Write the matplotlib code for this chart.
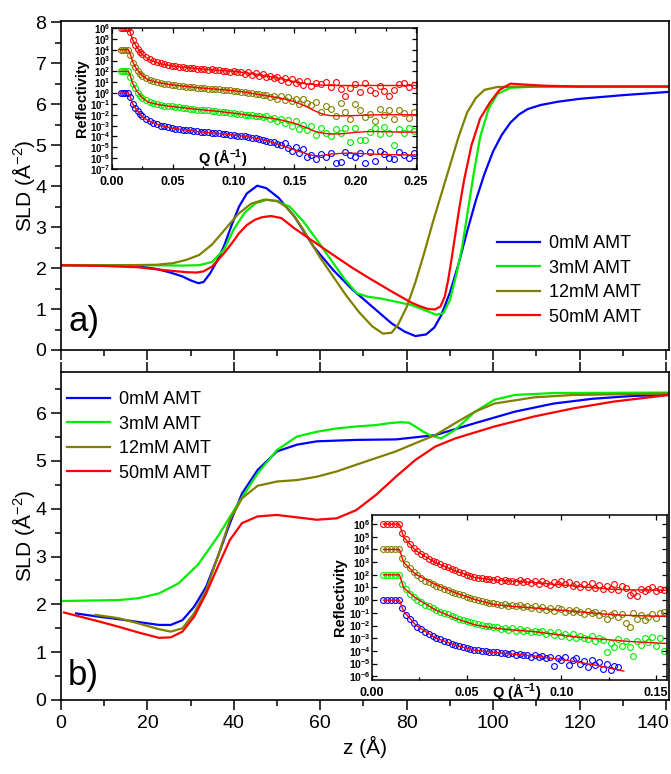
import matplotlib
matplotlib.use("Agg")
import matplotlib.pyplot as plt
from matplotlib import font_manager
from matplotlib.ticker import MultipleLocator, FixedLocator, FormatStrFormatter

# ---------------- data ----------------
# panel a) SLD profiles
z_a_blue = [0, 10, 18, 22, 25, 28, 30, 31.8, 33, 34.5, 36, 37.7, 39.5, 41.2, 43, 45.4, 47.5, 50.3, 54, 58.4,
            63, 67.5, 72, 76.5, 79.5, 82, 84.5, 86.4, 88, 90, 92, 94, 96, 98, 100, 102, 104, 106, 108, 111,
            115, 120, 130, 140.7]
sld_a_blue = [2.07, 2.07, 2.04, 1.98, 1.9, 1.8, 1.7, 1.63, 1.66, 1.87, 2.15, 2.53, 3.05, 3.5, 3.82, 4.01, 3.95, 3.72, 3.26, 2.53,
              1.95, 1.47, 1.06, 0.65, 0.45, 0.34, 0.38, 0.55, 0.85, 1.4, 2.1, 2.9, 3.65, 4.3, 4.85, 5.25, 5.55, 5.75, 5.88, 5.98,
              6.06, 6.13, 6.22, 6.3]
z_a_green = [0, 20, 28, 32, 35, 37.7, 40, 42.5, 45, 47.7, 50, 52.9, 56, 59, 63, 65.5, 68.4, 71, 73.8, 77,
             81, 84, 86.8, 88.5, 90, 91.5, 92.8, 94, 95.5, 97, 99, 101, 104, 110, 120, 140.7]
sld_a_green = [2.07, 2.07, 2.06, 2.07, 2.15, 2.45, 2.95, 3.35, 3.58, 3.67, 3.63, 3.5, 3.15, 2.72, 2.12, 1.75, 1.39, 1.3, 1.26, 1.19,
               1.1, 0.98, 0.86, 0.9, 1.22, 1.85, 2.5, 3.3, 4.3, 5.2, 5.9, 6.25, 6.4, 6.43, 6.43, 6.43]
z_a_olive = [0, 15, 22, 26, 29, 32, 35, 38, 41, 44, 47, 50, 52, 54, 56, 58, 60, 63, 66, 69,
             72, 74.5, 76.5, 78, 80, 82, 84, 86, 88, 90, 92, 94, 96, 98, 101, 110, 140.7]
sld_a_olive = [2.07, 2.07, 2.08, 2.12, 2.2, 2.32, 2.58, 2.95, 3.32, 3.57, 3.67, 3.64, 3.5, 3.26, 2.95, 2.6, 2.25, 1.79, 1.33, 0.92,
               0.58, 0.4, 0.42, 0.62, 1.05, 1.65, 2.35, 3.1, 3.8, 4.5, 5.2, 5.8, 6.15, 6.35, 6.42, 6.43, 6.43]
z_a_red = [0, 10, 17.8, 22, 26.8, 29, 31.4, 33, 35, 37.7, 39.5, 41.2, 43, 44.9, 46.5, 48.6, 51, 54, 58.4, 63,
           67.5, 72, 76.5, 81, 83, 85, 86.5, 87.8, 88.8, 89.6, 90.5, 91.4, 92.3, 93.3, 95, 97, 99.3, 101.5, 104, 107,
           112, 120, 140.7]
sld_a_red = [2.07, 2.05, 2.02, 1.97, 1.92, 1.9, 1.89, 1.92, 2.04, 2.36, 2.6, 2.85, 3.05, 3.18, 3.24, 3.27, 3.22, 2.97, 2.65, 2.32,
             2.0, 1.71, 1.43, 1.16, 1.07, 1.0, 0.99, 1.06, 1.3, 1.71, 2.3, 2.93, 3.55, 4.16, 5.0, 5.65, 6.05, 6.35, 6.5, 6.48,
             6.45, 6.43, 6.43]

# panel b) SLD profiles
z_b_blue = [3.5, 8.9, 13.4, 18, 22.7, 25.4, 28.1, 30.8, 33.6, 36.3, 39.1, 41.9, 45.5, 50, 54.6, 59.2, 68.3, 77.5, 86.6, 95.8,
            105, 114, 123, 132.4, 140.7]
sld_b_blue = [1.81, 1.74, 1.69, 1.63, 1.57, 1.57, 1.67, 1.95, 2.37, 3.0, 3.7, 4.32, 4.81, 5.2, 5.34, 5.41, 5.44, 5.45, 5.54, 5.79,
              6.03, 6.2, 6.3, 6.36, 6.38]
z_b_green = [0, 13.4, 18, 22.7, 27.2, 31.7, 36.3, 41, 45.5, 50, 54.6, 59.2, 63.8, 68.3, 72.9, 76, 78.5, 80.5, 82, 83.7,
             85.3, 88, 91.2, 95.8, 100.3, 105, 114, 140.7]
sld_b_green = [2.07, 2.09, 2.13, 2.23, 2.44, 2.83, 3.42, 4.11, 4.74, 5.23, 5.51, 5.61, 5.68, 5.72, 5.75, 5.79, 5.81, 5.8, 5.72, 5.62,
               5.54, 5.47, 5.65, 6.03, 6.28, 6.38, 6.42, 6.43]
z_b_olive = [8, 13.4, 18, 22.7, 25.4, 28.1, 30.8, 33.6, 36.3, 39.1, 41.9, 45.5, 50, 54.6, 59.2, 63.8, 68.3, 72.9, 77.5, 82,
             86.6, 91.2, 95.8, 100.3, 109.5, 118.6, 140.7]
sld_b_olive = [1.78, 1.71, 1.6, 1.48, 1.43, 1.5, 1.81, 2.3, 3.0, 3.77, 4.22, 4.48, 4.57, 4.6, 4.67, 4.78, 4.92, 5.06, 5.2, 5.37,
               5.54, 5.79, 6.03, 6.2, 6.33, 6.38, 6.41]
z_b_red = [0.7, 8.9, 13.4, 18, 22.7, 25.4, 28.1, 30.8, 33.6, 36.3, 39.1, 41.9, 45.5, 50, 54.6, 59.2, 63.8, 68.3, 72.9, 77.5,
           82, 86.6, 91.2, 100.3, 109.5, 118.6, 127.8, 140.7]
sld_b_red = [1.83, 1.64, 1.53, 1.41, 1.3, 1.31, 1.43, 1.74, 2.23, 2.79, 3.35, 3.7, 3.84, 3.87, 3.82, 3.77, 3.8, 3.97, 4.29, 4.67,
             5.02, 5.3, 5.47, 5.72, 5.93, 6.1, 6.24, 6.38]

labels = ["0mM AMT", "3mM AMT", "12mM AMT", "50mM AMT"]
colors = ["#0000FF", "#00EE00", "#808000", "#FF0000"]
z_ticks = [0, 20, 40, 60, 80, 100, 120, 140]

# inset a) reflectivity (log10 R, offset data)
q_top = [0.007, 0.009, 0.011, 0.013, 0.015, 0.017, 0.019, 0.021, 0.023, 0.025,
         0.028, 0.031, 0.034, 0.037, 0.040, 0.043, 0.046, 0.049, 0.052, 0.055,
         0.058, 0.061, 0.064, 0.067, 0.070, 0.073, 0.076, 0.079, 0.082, 0.085,
         0.088, 0.091, 0.094, 0.097, 0.100, 0.103, 0.106, 0.109, 0.112, 0.115,
         0.118, 0.121, 0.124, 0.127, 0.130, 0.133, 0.136, 0.139, 0.142, 0.145,
         0.148, 0.151, 0.154, 0.157, 0.160, 0.164, 0.168, 0.172, 0.176, 0.180,
         0.184, 0.188, 0.192, 0.196, 0.200, 0.204, 0.208, 0.212, 0.216, 0.220,
         0.224, 0.228, 0.232, 0.236, 0.240, 0.244, 0.248]
logr_top_blue = [0, 0, 0, -0.02, -0.4, -1.0, -1.35, -1.65, -1.9, -2.15,
                 -2.42, -2.6, -2.75, -2.88, -3.0, -3.08, -3.15, -3.22, -3.28, -3.33,
                 -3.36, -3.42, -3.45, -3.5, -3.54, -3.56, -3.62, -3.63, -3.68, -3.7,
                 -3.72, -3.78, -3.8, -3.85, -3.84, -3.92, -3.95, -3.98, -4.05, -4.1,
                 -4.12, -4.25, -4.3, -4.38, -4.5, -4.55, -4.7, -4.78, -4.6, -5.1,
                 -5.3, -4.95, -5.5, -5.2, -5.85, -5.7, -6.05, -5.6, -5.9, -5.5,
                 -6.45, -6.4, -5.45, -5.75, -5.9, -5.5, -6.45, -5.4, -6.3, -5.3,
                 -5.6, -5.95, -6.1, -5.4, -5.7, -6.0, -5.55]
logr_top_green = [2, 2, 2, 2, 1.5, 0.85, 0.45, 0.05, -0.25, -0.45,
                  -0.68, -0.85, -0.95, -1.03, -1.1, -1.15, -1.2, -1.23, -1.28, -1.3,
                  -1.36, -1.38, -1.45, -1.46, -1.52, -1.53, -1.58, -1.6, -1.63, -1.68,
                  -1.7, -1.75, -1.74, -1.82, -1.85, -1.9, -1.92, -1.98, -2.02, -2.05,
                  -2.12, -2.1, -2.25, -2.15, -2.35, -2.3, -2.55, -2.4, -2.75, -2.45,
                  -3.0, -2.6, -3.3, -2.9, -3.4, -3.05, -3.9, -3.2, -3.65, -4.0,
                  -3.3, -3.7, -3.2, -4.5, -3.2, -4.3, -4.35, -3.6, -3.2, -3.8,
                  -3.1, -3.7, -4.8, -3.3, -3.7, -3.2, -3.5]
logr_top_olive = [4, 4, 4, 4, 3.5, 2.8, 2.4, 2.05, 1.8, 1.6,
                  1.38, 1.2, 1.08, 0.98, 0.92, 0.86, 0.8, 0.76, 0.72, 0.68,
                  0.66, 0.6, 0.58, 0.54, 0.5, 0.48, 0.43, 0.42, 0.38, 0.36,
                  0.33, 0.3, 0.28, 0.25, 0.2, 0.18, 0.12, 0.1, 0.02, 0.0,
                  -0.1, -0.05, -0.22, -0.15, -0.35, -0.25, -0.5, -0.3, -0.6, -0.35,
                  -0.75, -0.5, -1.0, -0.55, -0.9, -1.1, -0.8, -1.7, -1.15, -1.5,
                  -2.1, -0.9, -1.7, -2.4, -1.0, -1.6, -2.2, -1.9, -2.6, -1.5,
                  -2.0, -1.6, -2.4, -1.6, -1.8, -2.3, -1.7]
logr_top_red = [6, 6, 6, 6, 5.6, 4.9, 4.45, 4.1, 3.8, 3.58,
                3.35, 3.15, 2.98, 2.85, 2.75, 2.65, 2.58, 2.52, 2.47, 2.42,
                2.38, 2.35, 2.32, 2.28, 2.25, 2.22, 2.2, 2.15, 2.18, 2.1,
                2.12, 2.05, 2.08, 1.98, 2.02, 1.92, 1.95, 1.8, 1.9, 1.7,
                1.82, 1.6, 1.75, 1.45, 1.6, 1.35, 1.5, 1.2, 1.4, 1.0,
                1.3, 0.9, 1.15, 0.7, 1.1, 0.65, 0.95, 0.8, 1.0, 0.6,
                1.05, 0.4, -0.3, 0.5, 0.85, 0.1, 0.95, 0.3, 0.0, 0.65,
                0.2, -0.3, 0.3, 0.8, 0.9, 0.55, 0.7]
q_fit_top = [0.006, 0.0135, 0.015, 0.017, 0.02, 0.025, 0.03, 0.04, 0.05, 0.07,
             0.09, 0.10, 0.11, 0.12, 0.13, 0.14, 0.15, 0.16, 0.165, 0.17,
             0.175, 0.18, 0.19, 0.20, 0.21, 0.22, 0.23, 0.24, 0.25]
fit_top_blue = [0, 0, -0.35, -1.0, -1.5, -2.2, -2.55, -3.0, -3.25, -3.55,
                -3.75, -3.86, -4.0, -4.2, -4.48, -4.85, -5.24, -5.6, -5.75, -5.78,
                -5.72, -5.62, -5.55, -5.55, -5.6, -5.65, -5.68, -5.7, -5.7]
fit_top_green = [2, 2, 1.6, 0.9, 0.25, -0.45, -0.85, -1.1, -1.25, -1.5,
                 -1.72, -1.86, -2.0, -2.15, -2.3, -2.5, -2.79, -3.2, -3.45, -3.62,
                 -3.72, -3.77, -3.75, -3.62, -3.55, -3.55, -3.58, -3.6, -3.6]
fit_top_olive = [4, 4, 3.6, 2.9, 2.25, 1.6, 1.2, 0.92, 0.75, 0.5,
                 0.32, 0.22, 0.08, -0.12, -0.3, -0.5, -0.79, -1.25, -1.55, -1.8,
                 -2.0, -2.08, -2.1, -2.07, -2.03, -2.0, -2.0, -2.0, -2.0]
fit_top_red = [6, 6, 5.6, 4.9, 4.3, 3.55, 3.1, 2.7, 2.5, 2.25,
               2.08, 2.0, 1.88, 1.7, 1.52, 1.3, 1.05, 0.85, 0.8, 0.75,
               0.72, 0.7, 0.7, 0.7, 0.7, 0.7, 0.7, 0.7, 0.7]

# inset b) reflectivity
q_bot = [0.006, 0.008, 0.010, 0.012, 0.014, 0.016, 0.018, 0.020, 0.022, 0.024,
         0.026, 0.028, 0.030, 0.032, 0.034, 0.036, 0.038, 0.040, 0.042, 0.044,
         0.046, 0.048, 0.050, 0.052, 0.054, 0.056, 0.058, 0.060, 0.062, 0.064,
         0.066, 0.068, 0.070, 0.072, 0.074, 0.076, 0.078, 0.080, 0.082, 0.084,
         0.086, 0.088, 0.090, 0.092, 0.094, 0.096, 0.098, 0.100, 0.102, 0.104,
         0.106, 0.108, 0.110, 0.112, 0.114, 0.116, 0.118, 0.120, 0.122, 0.124,
         0.126, 0.128, 0.130, 0.132, 0.134, 0.136, 0.138, 0.140, 0.142, 0.144,
         0.146, 0.148, 0.150, 0.152, 0.154]
logr_bot_blue = [0, 0, 0, 0, 0, -0.6, -1.15, -1.5, -1.82, -2.08,
                 -2.3, -2.5, -2.65, -2.83, -2.98, -3.1, -3.22, -3.32, -3.45, -3.52,
                 -3.6, -3.7, -3.75, -3.85, -3.9, -3.95, -4.0, -4.05, -4.08, -4.12,
                 -4.1, -4.2, -4.15, -4.25, -4.2, -4.3, -4.28, -4.35, -4.3, -4.45,
                 -4.35, -4.5, -4.4, -4.6, -4.45, -5.2, -4.55, -4.7, -4.5, -5.15,
                 -4.75, -4.6, -5.0, -4.8, -5.3, -4.7, -5.1, -4.9, -5.4, -5.0,
                 -5.5, -5.2, -5.3]
logr_bot_green = [2, 2, 2, 2, 2, 1.3, 0.85, 0.5, 0.25, 0.02,
                  -0.18, -0.35, -0.5, -0.65, -0.78, -0.9, -1.02, -1.12, -1.25, -1.35,
                  -1.45, -1.55, -1.62, -1.75, -1.8, -1.9, -1.95, -2.05, -2.0, -2.15,
                  -2.1, -2.25, -2.2, -2.35, -2.2, -2.4, -2.3, -2.45, -2.35, -2.5,
                  -2.4, -2.55, -2.45, -2.7, -2.5, -2.75, -2.55, -2.8, -2.65, -2.9,
                  -2.7, -3.0, -2.8, -2.95, -3.1, -2.85, -3.2, -3.0, -3.15, -4.1,
                  -3.4, -3.7, -3.05, -3.6, -3.25, -3.7, -4.4, -3.2, -3.5, -3.0,
                  -3.3, -2.9, -3.6, -3.0, -4.0]
logr_bot_olive = [4, 4, 4, 4, 4, 3.3, 2.85, 2.5, 2.2, 1.95,
                  1.75, 1.55, 1.4, 1.28, 1.15, 1.0, 0.9, 0.78, 0.68, 0.58,
                  0.45, 0.38, 0.28, 0.2, 0.1, 0.02, -0.05, -0.12, -0.2, -0.25,
                  -0.3, -0.35, -0.3, -0.45, -0.38, -0.5, -0.4, -0.55, -0.45, -0.6,
                  -0.5, -0.7, -0.55, -0.75, -0.6, -0.85, -0.65, -0.7, -0.9, -0.75,
                  -0.95, -0.8, -0.9, -1.1, -0.85, -1.0, -0.9, -1.2, -1.0, -1.5,
                  -1.2, -1.0, -1.35, -1.1, -1.8, -2.1, -1.0, -1.5, -1.2, -1.6,
                  -1.3, -1.1, -1.4, -1.0, -0.9]
logr_bot_red = [6, 6, 6, 6, 6, 5.3, 4.8, 4.45, 4.15, 3.9,
                3.65, 3.45, 3.28, 3.12, 2.98, 2.82, 2.7, 2.58, 2.45, 2.35,
                2.22, 2.12, 2.02, 1.92, 1.85, 1.78, 1.72, 1.65, 1.7, 1.6,
                1.65, 1.55, 1.6, 1.48, 1.55, 1.45, 1.6, 1.4, 1.5, 1.35,
                1.55, 1.3, 1.5, 1.35, 1.2, 1.45, 1.3, 1.5, 1.25, 1.4,
                1.1, 1.3, 1.0, 1.25, 1.05, 1.35, 0.95, 1.2, 0.9, 1.1,
                0.85, 1.3, 0.8, 1.1, 0.95, 0.4, 0.6, 0.3, 0.9, 0.7,
                0.85, 1.0, 0.75, 0.9, 0.8]
q_fit_bot = [0.006, 0.0145, 0.0167, 0.023, 0.0333, 0.0438, 0.0544, 0.0647, 0.075, 0.0856,
             0.096, 0.1064, 0.117, 0.1273, 0.135, 0.1543, 0.156]
q_fit_bot_blue = [0.006, 0.0145, 0.0167, 0.023, 0.0333, 0.0438, 0.0544, 0.0647, 0.075, 0.0856,
                  0.096, 0.1064, 0.117, 0.1273, 0.133]
fit_bot_blue = [0, 0, -0.88, -1.95, -2.96, -3.55, -3.95, -4.13, -4.27, -4.4,
                -4.6, -4.83, -5.1, -5.41, -5.6]
fit_bot_green = [2, 2, 0.98, 0.18, -0.75, -1.42, -1.95, -2.21, -2.36, -2.48,
                 -2.68, -2.88, -3.02, -3.15, -3.25, -3.41, -3.42]
fit_bot_olive = [4, 4, 2.98, 2.05, 1.25, 0.59, 0.05, -0.35, -0.5, -0.62,
                 -0.75, -0.88, -1.02, -1.15, -1.2, -1.28, -1.29]
fit_bot_red = [6, 6, 4.98, 3.92, 2.98, 2.32, 1.78, 1.6, 1.5, 1.39,
               1.25, 1.12, 0.98, 0.85, 0.82, 0.78, 0.78]

# ---------------- fonts ----------------
names = {f.name for f in font_manager.fontManager.ttflist}
main_font = "Liberation Sans Narrow" if "Liberation Sans Narrow" in names else "Liberation Sans"
bold_font = "Liberation Sans"
plt.rcParams["font.family"] = [main_font, "DejaVu Sans"]
plt.rcParams["mathtext.fontset"] = "custom"
plt.rcParams["mathtext.rm"] = main_font
plt.rcParams["mathtext.it"] = main_font + ":italic"
plt.rcParams["mathtext.bf"] = bold_font + ":bold"

W, H = 671, 774
fig = plt.figure(figsize=(W / 100, H / 100), dpi=100)

def fx(px):
    return px / W

def fy(py):
    return 1 - py / H

L, R = 61, 669
ax1 = fig.add_axes([fx(L), fy(350), fx(R) - fx(L), fy(21) - fy(350)])
ax2 = fig.add_axes([fx(L), fy(700), fx(R) - fx(L), fy(372) - fy(700)])

main_fs = 14
for ax in (ax1, ax2):
    for sp in ax.spines.values():
        sp.set_linewidth(1.2)
    ax.set_xlim(0, 140.7)
    ax.xaxis.set_major_locator(FixedLocator(z_ticks))
    ax.xaxis.set_minor_locator(MultipleLocator(10))
    ax.yaxis.set_major_locator(MultipleLocator(1))
    ax.yaxis.set_minor_locator(MultipleLocator(0.5))
    ax.tick_params(which="both", direction="out", width=1.1, labelsize=main_fs)
    ax.tick_params(which="major", length=7)
    ax.tick_params(which="minor", length=4)
    ax.set_ylabel("SLD (Å$^{-2}$)", fontsize=main_fs + 1)
    ax.yaxis.set_label_coords(-0.04, 0.5)

ax1.set_ylim(0, 8.03)
ax1.tick_params(axis="x", labelbottom=False)
ax2.set_ylim(0, 6.86)
ax2.tick_params(axis="x", top=True, labeltop=False)
ax2.set_xlabel("z (Å)", fontsize=main_fs + 1, labelpad=3)
# last tick label drawn slightly inward so it stays inside the figure
ax2.set_xticklabels([str(t) for t in z_ticks[:-1]] + [""])
ax2.annotate(str(z_ticks[-1]), xy=(z_ticks[-1], 0), xycoords="data", xytext=(-9.5, -10.5),
             textcoords="offset points", ha="center", va="top", fontsize=main_fs)

lw = 1.6
for z, s, c, lab in zip([z_a_blue, z_a_green, z_a_olive, z_a_red],
                        [sld_a_blue, sld_a_green, sld_a_olive, sld_a_red], colors, labels):
    ax1.plot(z, s, color=c, lw=lw, label=lab, solid_joinstyle="round")
for z, s, c, lab in zip([z_b_blue, z_b_green, z_b_olive, z_b_red],
                        [sld_b_blue, sld_b_green, sld_b_olive, sld_b_red], colors, labels):
    ax2.plot(z, s, color=c, lw=lw, label=lab, solid_joinstyle="round")

leg_kw = dict(frameon=False, fontsize=13, handlelength=2.4, handletextpad=0.5,
              labelspacing=0.42, borderpad=0, borderaxespad=0)
ax1.legend(loc="upper left", bbox_to_anchor=(fx(497), fy(235)), bbox_transform=fig.transFigure, **leg_kw)
ax2.legend(loc="upper left", bbox_to_anchor=(fx(67), fy(391)), bbox_transform=fig.transFigure, **leg_kw)

fig.text(fx(68), fy(322), "a)", fontsize=25, va="center", ha="left")
fig.text(fx(68), fy(676), "b)", fontsize=25, va="center", ha="left")

# ---------------- insets ----------------
def sup_label(e):
    return r"$\mathbf{10^{%d}}$" % e

def style_inset(ax, xmax, ymin, ymax, exps, fs):
    ax.set_facecolor("white")
    for sp in ax.spines.values():
        sp.set_linewidth(1.1)
    ax.set_yscale("log")
    ax.set_xlim(0, xmax)
    ax.set_ylim(10.0 ** ymin, 10.0 ** ymax)
    ax.yaxis.set_major_locator(FixedLocator([10.0 ** e for e in exps]))
    ax.yaxis.set_minor_locator(FixedLocator([]))
    ax.set_yticklabels([sup_label(e) for e in exps])
    ax.xaxis.set_major_locator(MultipleLocator(0.05))
    ax.xaxis.set_minor_locator(MultipleLocator(0.025))
    ax.xaxis.set_major_formatter(FormatStrFormatter("%.2f"))
    ax.tick_params(which="both", direction="in", top=True, right=True, width=0.9)
    ax.tick_params(which="major", length=3.5)
    ax.tick_params(which="minor", length=2)
    ax.tick_params(axis="y", labelsize=fs, pad=1)
    ax.tick_params(axis="x", labelsize=9, pad=5)
    for t in ax.get_xticklabels():
        t.set_fontweight("bold")
        t.set_fontfamily(bold_font)

mk = dict(ls="none", marker="o", ms=4.2, mfc="none", mew=0.8)

axi1 = fig.add_axes([fx(112), fy(169), fx(417) - fx(112), fy(28) - fy(169)])
style_inset(axi1, 0.2508, -7, 6, list(range(-7, 7)), 7.0)
for lr, c in zip([logr_top_blue, logr_top_green, logr_top_olive, logr_top_red], colors):
    axi1.plot(q_top, [10.0 ** v for v in lr], mec=c, **mk)
for fv in (fit_top_blue, fit_top_green, fit_top_olive, fit_top_red):
    axi1.plot(q_fit_top, [10.0 ** v for v in fv], color="#FF0000", lw=1.0)
axi1.set_ylabel("Reflectivity", fontsize=10.5, fontweight="bold", family=bold_font, labelpad=1)
fig.text(fx(223), fy(158), r"$\mathbf{Q\ (\AA^{-1})}$", fontsize=10.5, ha="center", va="center")

axi2 = fig.add_axes([fx(372), fy(680), fx(667) - fx(372), fy(515) - fy(680)])
style_inset(axi2, 0.1558, -6.3, 6.72, list(range(-6, 7)), 7.5)
for lr, c in zip([logr_bot_blue, logr_bot_green, logr_bot_olive, logr_bot_red], colors):
    axi2.plot(q_bot[:len(lr)], [10.0 ** v for v in lr], mec=c, **mk)
axi2.plot(q_fit_bot_blue, [10.0 ** v for v in fit_bot_blue], color="#FF0000", lw=1.0)
for fv in (fit_bot_green, fit_bot_olive, fit_bot_red):
    axi2.plot(q_fit_bot, [10.0 ** v for v in fv], color="#FF0000", lw=1.0)
axi2.set_ylabel("Reflectivity", fontsize=10.5, fontweight="bold", family=bold_font, labelpad=1)
fig.text(fx(517), fy(691), r"$\mathbf{Q\ (\AA^{-1})}$", fontsize=10.5, ha="center", va="center")

fig.savefig("out.png", dpi=100)
